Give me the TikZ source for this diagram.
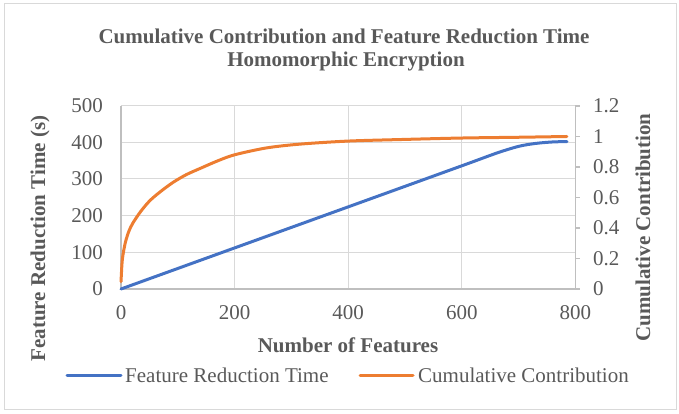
\documentclass[tikz,border=0pt]{standalone}
\usepackage{fontspec}
\setmainfont{Liberation Serif}
\usetikzlibrary{positioning}
\definecolor{txtgray}{HTML}{595959}
\definecolor{gridgray}{HTML}{D9D9D9}
\definecolor{axisgray}{HTML}{BFBFBF}
\definecolor{frtblue}{HTML}{4472C4}
\definecolor{ccorange}{HTML}{ED7D31}
\tikzset{
	ticklbl/.style={font=\fontsize{21}{24}\selectfont, text=txtgray, inner sep=0pt},
	axtitle/.style={font=\fontsize{21}{24}\selectfont\bfseries, text=txtgray, inner sep=0pt},
	serie/.style={line width=3pt, line cap=round, line join=round},
}
\begin{document}
\begin{tikzpicture}[x=1pt,y=1pt]
	\useasboundingbox (0,0) rectangle (679,414);
	\draw[gridgray, line width=1pt] (4,4) rectangle (676,410); % khung ngoai
	\node[axtitle, anchor=base] (title1) at (344,370) {Cumulative Contribution and Feature Reduction Time};
	\node[axtitle, anchor=base] (title2) at (346,347.5) {Homomorphic Encryption};
	\begin{scope}[shift={(121,125)}, x=0.5681pt, y=0.3667pt]
		\foreach \v in {100,200,...,500} \draw[gridgray, line width=1pt] (0,\v) -- (800,\v);
		\foreach \f in {200,400,600} \draw[gridgray, line width=1pt] (\f,0) -- (\f,500);
		\draw[axisgray, line width=1.2pt] (0,500) -- (0,0) -- (800,0) -- (800,500);
		\foreach \v in {0,100,...,500}
			\node[ticklbl, anchor=east, xshift=-18pt] (yl\v) at (0,\v) {\v};
		\foreach \f in {0,200,...,800}
			\node[ticklbl, anchor=north, yshift=-16pt] (xl\f) at (\f,0) {\f};
		% Feature Reduction Time
		\draw[serie, frtblue] plot[smooth, tension=0.5] coordinates {(0,0) (300,168) (600,336) (660,370) (700,389) (730,397) (760,401) (785,402)};
		\begin{scope}[y=152.5pt]
			\foreach \c in {0,0.2,0.4,0.6,0.8,1,1.2} {
				\draw[axisgray, line width=1.2pt] (800,\c) -- ++(5pt,0);
				\node[ticklbl, anchor=west, xshift=17.5pt] (yr\c) at (800,\c) {\c};
			}
			% Cumulative Contribution
			\draw[serie, ccorange] plot[smooth, tension=0.5] coordinates {(0,0.048) (1,0.12) (2,0.18) (4,0.236) (8,0.31) (14,0.38) (21,0.433) (35,0.51) (51,0.58) (70,0.64) (92,0.70) (115,0.75) (139,0.79) (170,0.84) (200,0.88) (256,0.925) (315,0.95) (400,0.97) (491,0.98) (600,0.99) (700,0.995) (785,1.0)};
		\end{scope}
	\end{scope}
	\node[axtitle, anchor=base] (xtitle) at (348,61) {Number of Features};
	\node[axtitle, anchor=base, rotate=90] (ytitle) at (45,175.5) {Feature Reduction Time (s)};
	\node[axtitle, anchor=base, rotate=90] (y2title) at (650,186.5) {Cumulative Contribution};
	% chu thich
	\node[ticklbl, anchor=base west] (lgfrt) at (125,31) {Feature Reduction Time};
	\node[ticklbl, anchor=base west] (lgcc) at (418,31) {Cumulative Contribution};
	\draw[serie, frtblue] (67,38) -- (121,38);
	\draw[serie, ccorange] (360,38) -- (413,38);
\end{tikzpicture}
\end{document}
